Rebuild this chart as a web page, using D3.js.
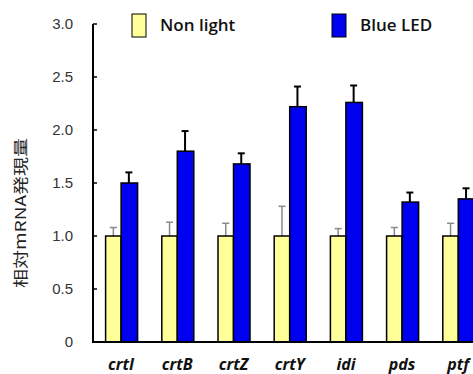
<!DOCTYPE html>
<html>
<head>
<meta charset="utf-8">
<script src="https://cdn.jsdelivr.net/npm/d3@7"></script>
<style>
  body { margin: 0; background: #fff; }
  svg { display: block; }
</style>
</head>
<body>
<div id="chart"></div>
<script>
// gene names and measured values
const genes = ["crtI", "crtB", "crtZ", "crtY", "idi", "pds", "ptf"];
const nonLight = [1.0, 1.0, 1.0, 1.0, 1.0, 1.0, 1.0];
const nonLightErr = [0.08, 0.13, 0.12, 0.28, 0.07, 0.08, 0.12];
const blueLed = [1.50, 1.80, 1.68, 2.22, 2.26, 1.32, 1.35];
const blueLedErr = [0.10, 0.19, 0.10, 0.19, 0.16, 0.09, 0.10];
const yTicks = [0, 0.5, 1.0, 1.5, 2.0, 2.5, 3.0];

const width = 473;
const height = 374;
const svg = d3.select("#chart").append("svg")
    .attr("width", width)
    .attr("height", height);

const x0 = 93;
const x = d3.scaleBand().domain(genes).range([x0, x0 + 56.2 * genes.length]);
const barW = 15.5;
const y = d3.scaleLinear().domain([0, 3]).range([342, 24]);

// y axis line + inward ticks
svg.append("line")
    .attr("x1", x0).attr("x2", x0)
    .attr("y1", y(3)).attr("y2", y(0))
    .attr("stroke", "#000").attr("stroke-width", 2);
svg.selectAll(".ytick")
    .data(yTicks)
    .enter().append("line")
    .attr("x1", x0).attr("x2", x0 + 4)
    .attr("y1", d => y(d)).attr("y2", d => y(d))
    .attr("stroke", "#000").attr("stroke-width", 1.5);
svg.selectAll(".ylab")
    .data(yTicks)
    .enter().append("text")
    .attr("x", 73)
    .attr("y", d => y(d))
    .attr("dy", "0.35em")
    .attr("text-anchor", "end")
    .attr("font-family", "Liberation Sans, Arial, sans-serif")
    .attr("font-size", 15)
    .attr("fill", "#333")
    .text(d => d === 0 ? "0" : d.toFixed(1));

// y axis title (slightly stretched like the original)
svg.append("text")
    .attr("transform", "translate(26,213) rotate(-90) scale(1.27,1)")
    .attr("text-anchor", "middle")
    .attr("font-family", "Noto Sans CJK JP, sans-serif")
    .attr("font-size", 15)
    .attr("fill", "#222")
    .text("相対mRNA発現量");

const groups = svg.selectAll(".gene")
    .data(genes)
    .enter().append("g")
    .attr("transform", d => `translate(${x(d) + x.bandwidth() / 2},0)`);

// error bars (drawn behind bars)
groups.append("line")
    .attr("x1", -barW / 2).attr("x2", -barW / 2)
    .attr("y1", (d, i) => y(nonLight[i]))
    .attr("y2", (d, i) => y(nonLight[i] + nonLightErr[i]))
    .attr("stroke", "#8a8a8a").attr("stroke-width", 1.5);
groups.append("line")
    .attr("x1", -barW / 2 - 3.5).attr("x2", -barW / 2 + 3.5)
    .attr("y1", (d, i) => y(nonLight[i] + nonLightErr[i]))
    .attr("y2", (d, i) => y(nonLight[i] + nonLightErr[i]))
    .attr("stroke", "#8a8a8a").attr("stroke-width", 1.5);
groups.append("line")
    .attr("x1", barW / 2).attr("x2", barW / 2)
    .attr("y1", (d, i) => y(blueLed[i]))
    .attr("y2", (d, i) => y(blueLed[i] + blueLedErr[i]))
    .attr("stroke", "#000").attr("stroke-width", 2);
groups.append("line")
    .attr("x1", barW / 2 - 3.5).attr("x2", barW / 2 + 3.5)
    .attr("y1", (d, i) => y(blueLed[i] + blueLedErr[i]))
    .attr("y2", (d, i) => y(blueLed[i] + blueLedErr[i]))
    .attr("stroke", "#000").attr("stroke-width", 2);

// bars
groups.append("rect")
    .attr("x", -barW)
    .attr("width", barW)
    .attr("y", (d, i) => y(nonLight[i]))
    .attr("height", (d, i) => y(0) - y(nonLight[i]))
    .attr("fill", "#ffff99")
    .attr("stroke", "#000").attr("stroke-width", 1.5);
groups.append("rect")
    .attr("x", 0)
    .attr("width", barW + 1)
    .attr("y", (d, i) => y(blueLed[i]))
    .attr("height", (d, i) => y(0) - y(blueLed[i]))
    .attr("fill", "#0000f0")
    .attr("stroke", "#000").attr("stroke-width", 1.5);

// gene labels
groups.append("text")
    .attr("y", 370)
    .attr("text-anchor", "middle")
    .attr("font-family", "Open Sans, sans-serif")
    .attr("font-style", "italic")
    .attr("font-weight", "bold")
    .attr("font-size", 16)
    .attr("fill", "#111")
    .text(d => d);

// x axis line
svg.append("line")
    .attr("x1", x0 - 1).attr("x2", width)
    .attr("y1", y(0)).attr("y2", y(0))
    .attr("stroke", "#000").attr("stroke-width", 2);

// legend
const legend = [
    { name: "Non light", color: "#ffff99", x: 132 },
    { name: "Blue LED", color: "#0000f0", x: 332 }
];
const lg = svg.selectAll(".legend")
    .data(legend)
    .enter().append("g")
    .attr("transform", d => `translate(${d.x},14)`);
lg.append("rect")
    .attr("width", 14).attr("height", 23)
    .attr("fill", d => d.color)
    .attr("stroke", "#000").attr("stroke-width", 1);
lg.append("text")
    .attr("x", 28).attr("y", 17)
    .attr("font-family", "Open Sans, sans-serif")
    .attr("font-weight", 600)
    .attr("font-size", 17)
    .attr("fill", "#111")
    .text(d => d.name);
</script>
</body>
</html>
